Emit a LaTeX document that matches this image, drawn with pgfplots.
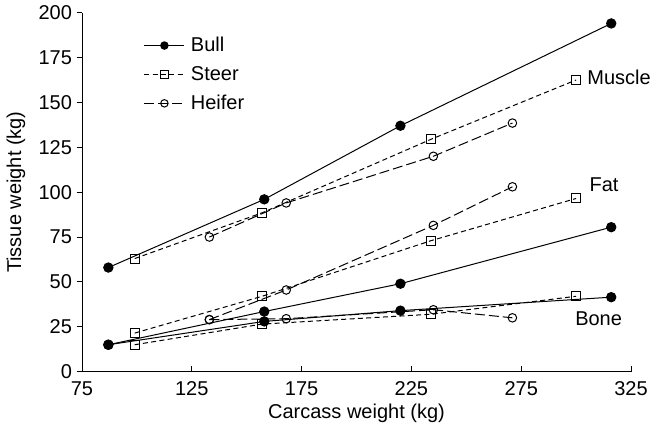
\documentclass[border=0pt]{standalone}
\usepackage{fontspec}
\setmainfont{Liberation Sans}
\usepackage{pgfplots}
\pgfplotsset{compat=1.18}
\newcommand{\fs}{\fontsize{15}{17}\selectfont}
\begin{document}
\begin{tikzpicture}
\begin{axis}[name=ax, scale only axis, width=411.75pt, height=269.25pt,
  xmin=75, xmax=325, ymin=0, ymax=200,
  axis x line*=bottom, axis y line*=left,
  xtick={75,125,...,325}, ytick={0,25,...,200},
  tick align=outside, major tick length=4pt,
  xtick style={yshift=4pt},
  tick style={black, line width=0.75pt},
  axis line style={line width=0.75pt},
  /pgf/number format/assume math mode=true,
  tick label style={font=\fs},
  label style={font=\fs},
  xlabel={Carcass weight (kg)}, ylabel={Tissue weight (kg)},
  xlabel style={at={(axis description cs:0.5,0)}, yshift=-31pt, anchor=center},
  ylabel style={at={(axis description cs:0,0.5)}, yshift=49.5pt, anchor=center},
  clip=false,
  legend style={at={(0.105,0.947)}, anchor=north west, draw=none, fill=none, font=\fs, row sep=5.5pt,
    nodes={inner xsep=4.5pt}},
  legend cell align=left,
  legend image code/.code={\draw[mark repeat=2,mark phase=2,#1,mark size=2.8pt] plot coordinates {(0pt,0pt) (15pt,0pt) (30pt,0pt)};},
]
% Muscle
\addplot[black, line width=0.75pt, mark=*, mark size=3.5pt, mark options={solid}] coordinates {(87,58) (158,96) (220,137) (316,194)};
\addlegendentry{Bull}
\addplot[black, line width=0.75pt, dash pattern=on 3.75pt off 2.5pt, mark=square, mark size=3.4pt, mark options={solid}] coordinates {(99,63) (157,88.5) (234,129.5) (300,162.5)};
\addlegendentry{Steer}
\addplot[black, line width=0.75pt, dash pattern=on 7.5pt off 3pt, mark=o, mark size=3.2pt, mark options={solid}] coordinates {(133,75) (168,94) (235,120) (271,138.5)};
\addlegendentry{Heifer}
% Fat
\addplot[forget plot, black, line width=0.75pt, mark=*, mark size=3.5pt, mark options={solid}] coordinates {(87,15) (158,33.5) (220,49) (316,80.5)};
\addplot[forget plot, black, line width=0.75pt, dash pattern=on 3.75pt off 2.5pt, mark=square, mark size=3.4pt, mark options={solid}] coordinates {(99,21.5) (157,42) (234,73) (300,96.5)};
\addplot[forget plot, black, line width=0.75pt, dash pattern=on 7.5pt off 3pt, mark=o, mark size=3.2pt, mark options={solid}] coordinates {(133,29) (168,45.5) (235,81.5) (271,103)};
% Bone
\addplot[forget plot, black, line width=0.75pt, mark=*, mark size=3.5pt, mark options={solid}] coordinates {(87,15) (158,28) (220,34) (316,41.5)};
\addplot[forget plot, black, line width=0.75pt, dash pattern=on 3.75pt off 2.5pt, mark=square, mark size=3.4pt, mark options={solid}] coordinates {(99,15) (157,26.5) (234,32) (300,42)};
\addplot[forget plot, black, line width=0.75pt, dash pattern=on 7.5pt off 3pt, mark=o, mark size=3.2pt, mark options={solid}] coordinates {(133,29) (168,29.5) (235,34.5) (271,30)};
\node[anchor=west, inner sep=0pt, font=\fs] at (axis cs:305,164) {Muscle};
\node[anchor=west, inner sep=0pt, font=\fs] at (axis cs:306,104) {Fat};
\node[anchor=west, inner sep=0pt, font=\fs] at (axis cs:299.5,29.5) {Bone};
\end{axis}
\pgfresetboundingbox
\path[use as bounding box] ([xshift=-61.5pt,yshift=-45.2pt]ax.south west) rectangle ([xshift=18pt,yshift=9.5pt]ax.north east);
\end{tikzpicture}
\end{document}
